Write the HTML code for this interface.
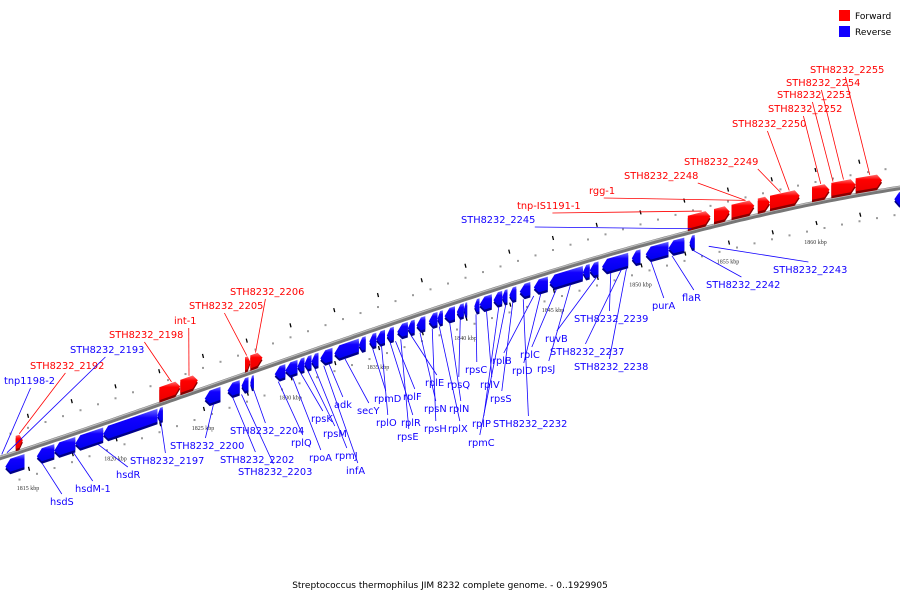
<!DOCTYPE html>
<html><head><meta charset="utf-8"><style>
body{margin:0;background:#fff;}
svg{display:block;font-family:"DejaVu Sans","Liberation Sans",sans-serif;}
</style></head><body>
<svg id="c" width="900" height="600" viewBox="0 0 900 600">
<defs>
<linearGradient id="gR" x1="0" y1="0" x2="0" y2="1"><stop offset="0" stop-color="#ff7070"/><stop offset="0.3" stop-color="#f00"/><stop offset="1" stop-color="#e00"/></linearGradient>
<linearGradient id="gB" x1="0" y1="0" x2="0" y2="1"><stop offset="0" stop-color="#7070ff"/><stop offset="0.3" stop-color="#10f"/><stop offset="1" stop-color="#00e"/></linearGradient>
</defs>
<g id="bg"></g><g id="genesG"></g><g id="labelsG"></g>
<rect x="839" y="10" width="11" height="11" fill="#f00"/>
<text x="855" y="19" font-size="9">Forward</text>
<rect x="839" y="26" width="11" height="11" fill="#10f"/>
<text x="855" y="35" font-size="9">Reverse</text>
<text x="450" y="588" font-size="9" text-anchor="middle">Streptococcus thermophilus JIM 8232 complete genome. - 0..1929905</text>
</svg>
<script>
const NS="http://www.w3.org/2000/svg";
const tickKbp=[1815,1820,1825,1830,1835,1840,1845,1850,1855,1860];
const geneStart=[1813.7,1815.5,1816.5,1817.7,1819.3,1822.4,1825.1,1826.4,1827.2,1827.7,1829.1,1829.7,1830.4,1830.8,1831.2,1831.7,1832.5,1833.9,1834.5,1834.9,1835.5,1836.1,1836.7,1837.2,1837.9,1838.4,1838.8,1839.5,1839.9,1840.5,1840.8,1841.6,1842.1,1842.5,1843.1,1843.9,1844.8,1846.7,1847.1,1847.8,1849.5,1850.3,1851.6,1852.8,1864.5,
1814.3,1822.5,1823.7,1827.4,1827.7,1852.7,1854.2,1855.2,1856.7,1857.4,1859.8,1860.9,1862.3];
const geneEnd=[1814.8,1816.5,1817.7,1819.3,1822.4,1822.7,1826.0,1827.1,1827.6,1827.9,1829.7,1830.4,1830.8,1831.2,1831.6,1832.4,1833.9,1834.3,1834.9,1835.4,1835.9,1836.7,1837.1,1837.7,1838.4,1838.7,1839.4,1839.9,1840.1,1840.8,1841.5,1842.1,1842.4,1842.9,1843.7,1844.7,1846.7,1847.1,1847.6,1849.3,1850.0,1851.6,1852.5,1853.1,1865.5,
1814.7,1823.7,1824.7,1827.7,1828.4,1854.0,1855.1,1856.5,1857.4,1859.1,1860.8,1862.3,1863.8];
const geneStrand=[-1,-1,-1,-1,-1,-1,-1,-1,-1,-1,-1,-1,-1,-1,-1,-1,-1,-1,-1,-1,-1,-1,-1,-1,-1,-1,-1,-1,-1,-1,-1,-1,-1,-1,-1,-1,-1,-1,-1,-1,-1,-1,-1,-1,-1,
1,1,1,1,1,1,1,1,1,1,1,1,1];
const labelName=["tnp1198-2","STH8232_2192","STH8232_2193","STH8232_2198","int-1","STH8232_2205","STH8232_2206","STH8232_2245","tnp-IS1191-1","rgg-1","STH8232_2248","STH8232_2249","STH8232_2250","STH8232_2252","STH8232_2253","STH8232_2254","STH8232_2255",
"hsdS","hsdM-1","hsdR","STH8232_2197","STH8232_2200","STH8232_2202","STH8232_2203","STH8232_2204","rplQ","rpoA","rpsK","rpsM","rpmJ","infA","adk","secY","rpmD","rplO","rplR","rpsE","rplF","rplE","rpsN","rpsH","rplX","rplN","rpsQ","rpsC","rplV","rplP","rpmC","rpsS","STH8232_2232","rplB","rplD","rplC","rpsJ","ruvB","STH8232_2239","STH8232_2237","STH8232_2238","purA","flaR","STH8232_2242","STH8232_2243"];
const labelStrand=[-1,1,-1,1,1,1,1,-1,1,1,1,1,1,1,1,1,1,
-1,-1,-1,-1,-1,-1,-1,-1,-1,-1,-1,-1,-1,-1,-1,-1,-1,-1,-1,-1,-1,-1,-1,-1,-1,-1,-1,-1,-1,-1,-1,-1,-1,-1,-1,-1,-1,-1,-1,-1,-1,-1,-1,-1,-1];
const labelX=[4,30,70,109,174,189,230,461,517,589,624,684,732,768,777,786,810,
50,75,116,130,170,220,238,230,291,309,311,323,335,346,334,357,374,376,401,397,403,425,424,424,448,449,447,465,480,472,468,490,493,492,512,520,537,545,574,550,574,652,682,706,773];
const labelY=[384,369,353,338,324,309,295,223,209,194,179,165,127,112,98,86,73,
505,492,478,464,449,463,475,434,446,461,422,437,459,474,408,414,402,426,426,440,400,386,412,432,432,412,388,373,388,427,446,402,427,364,374,358,372,342,322,355,370,309,301,288,273];
const labelTarget=[1813.5,1814.5,1813.8,1823.2,1824.2,1827.5,1828.0,1852.9,1853.5,1856.0,1856.0,1858.0,1858.5,1860.3,1861.0,1861.6,1863.1,
1815.8,1817.6,1819.0,1822.6,1825.6,1826.7,1827.2,1827.9,1829.3,1830.1,1830.6,1831.0,1831.4,1831.9,1832.2,1833.1,1834.7,1835.2,1835.7,1836.3,1836.0,1836.9,1837.4,1838.1,1838.5,1839.1,1839.7,1840.6,1841.2,1841.9,1842.3,1842.7,1843.3,1843.9,1844.3,1845.2,1846.0,1847.5,1848.3,1848.9,1849.2,1850.6,1851.8,1853.0,1853.9];

function X(k){return 28+(k-1815)*17.5;}
function C(x){return 458-0.325*x-1.056e-4*x*x+1.48e-7*x*x*x;}
function el(t,a,p){const e=document.createElementNS(NS,t);for(const k in a)e.setAttribute(k,a[k]);(p||document.getElementById('bg')).appendChild(e);return e;}
let d="";for(let x=-5;x<=905;x+=5)d+=(x<0?"M":"L")+x+","+C(x).toFixed(1)+" ";
const bb=el('path',{d:d,stroke:'#777',"stroke-width":4.5,fill:'none'});


el('path',{d:d,stroke:'#bbb',"stroke-width":1.2,fill:'none',transform:'translate(0,-1.3)'});
for(let k=1813;k<=1866;k+=1){const x=X(k);if(x<-5||x>905)continue;
 el('rect',{x:x-1,y:C(x)-22,width:2,height:2,fill:'#999'});
 el('rect',{x:x+8,y:C(x)+24,width:2,height:2,fill:'#999'});}
for(let k=1812.5;k<=1866;k+=2.5){const x=X(k);if(x<-5||x>905)continue;
 el('line',{x1:x-0.5,y1:C(x)-35,x2:x+0.5,y2:C(x)-31,stroke:'#000',"stroke-width":1.3});
 el('line',{x1:x+0.5,y1:C(x)+18,x2:x+1.5,y2:C(x)+22,stroke:'#000',"stroke-width":1.3});}
tickKbp.forEach(k=>{const x=X(k);
 const t=el('text',{x:x,y:C(x)+41,"font-size":6,"font-family":"Liberation Serif,serif","text-anchor":"middle",fill:'#333'});
 t.textContent=k+" kbp";
 
 });
const gG=document.getElementById('genesG');
for(let i=0;i<geneStart.length;i++){
 const s=geneStrand[i],x1=X(geneStart[i]),x2=X(geneEnd[i]);
 const off=s>0?-17:4,h=13,ah=Math.min(5,(x2-x1)*0.5);
 const pts=[];
 const tp=x=>[x,C(x)+off],bt=x=>[x,C(x)+off+h],md=x=>[x,C(x)+off+h/2];
 if(s>0){pts.push(tp(x1),tp(x2-ah),md(x2),bt(x2-ah),bt(x1));}
 else{pts.push(md(x1),tp(x1+ah),tp(x2),bt(x2),bt(x1+ah));}
 const P=pts.map(p=>p[0].toFixed(1)+","+p[1].toFixed(1)).join(" ");
 el('polygon',{points:P,fill:s>0?'#800':'#008',transform:'translate(0,2.5)'},gG);
 const g=el('polygon',{points:P,fill:s>0?'url(#gR)':'url(#gB)'},gG);
 
 
}
const lG=document.getElementById('labelsG');
for(let i=0;i<labelName.length;i++){
 const s=labelStrand[i],col=s>0?'#f00':'#10f';
 const tx=X(labelTarget[i]);
 const w=labelName[i].length*5.9;
 let ly1,lx1,ty;
 if(labelY[i]<C(tx)){
   lx1=(labelX[i]+w+(labelName[i].startsWith('STH')&&labelX[i]>450&&labelX[i]<700?3:-w/2));
   ly1=labelY[i]+4;
   ty=C(tx)+(s>0?-18:-3);
 } else {lx1=labelX[i]+w/2;ly1=labelY[i]-11;ty=C(tx)+(s>0?-3:19);}
 const ln=el('line',{x1:lx1,y1:ly1,x2:tx,y2:ty,stroke:col,"stroke-width":0.8},lG);
 
 
 const t=el('text',{x:labelX[i],y:labelY[i],"font-size":9.8,fill:col},lG);
 t.textContent=labelName[i];
 
 
}
</script>
</body></html>
